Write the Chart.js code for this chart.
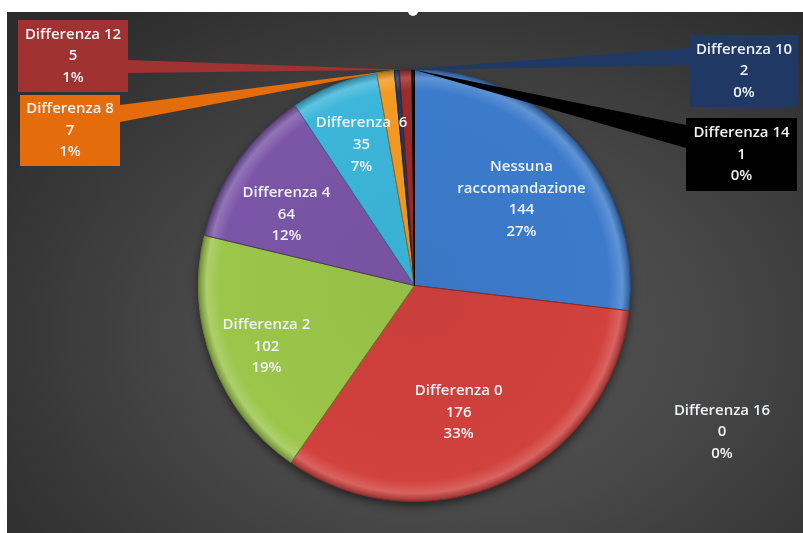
<!DOCTYPE html>
<html>
<head>
<meta charset="utf-8">
<script src="https://cdn.jsdelivr.net/npm/chart.js@4/dist/chart.umd.min.js"></script>
<style>
  body { margin: 0; background: #fff; }
  #wrap { position: relative; width: 803px; height: 533px; overflow: hidden; }
  #bg {
    position: absolute; left: 7px; top: 12px; width: 796px; height: 521px;
    background: radial-gradient(ellipse 70% 78% at 56% 62%, #575757 0%, #484848 45%, #2c2c2c 100%);
  }
  #dot { position: absolute; left: 408px; top: 6px; width: 10px; height: 10px; border-radius: 50%; background: #fff; }
  #grafico { position: absolute; left: 0; top: 0; }
</style>
</head>
<body>
<div id="wrap">
  <div id="bg"></div>
  <div id="dot"></div>
  <canvas id="grafico" width="803" height="533"></canvas>
</div>
<script>
const categorie = ['Nessuna raccomandazione', 'Differenza 0', 'Differenza 2', 'Differenza 4', 'Differenza  6',
  'Differenza 8', 'Differenza 10', 'Differenza 12', 'Differenza 14', 'Differenza 16'];
const valori = [144, 176, 102, 64, 35, 7, 2, 5, 1, 0];
const colori = ['#3c7bcc', '#d1413d', '#9bc64a', '#7b55a7', '#3cb6da', '#f39a22', '#1f3a60', '#9c2b2b', '#000000', '#777777'];

const totale = valori.reduce((a, b) => a + b, 0);
const percentuali = valori.map((v) => `${Math.round((v / totale) * 100)}%`);

// schiarisce/scurisce un colore hex
function shade(hex, f) {
  const n = parseInt(hex.slice(1), 16);
  let r = (n >> 16) & 255; let g = (n >> 8) & 255; let b = n & 255;
  if (f > 0) { r += (255 - r) * f; g += (255 - g) * f; b += (255 - b) * f; } else { r *= 1 + f; g *= 1 + f; b *= 1 + f; }
  return `rgb(${Math.round(r)},${Math.round(g)},${Math.round(b)})`;
}

// etichette dentro le fette: [raggio relativo, scarto angolo in gradi]
const dentro = { 0: [0.636, 2.8], 1: [0.622, 5], 2: [0.741, -1.5], 3: [0.678, -5.9], 4: [0.697, 1.2] };
// callout esterni
const callout = {
  5: { x: 20, y: 95, w: 100, h: 71, bg: '#e46c0a', ax: 120, ay1: 105, ay2: 122 },
  6: { x: 690, y: 35, w: 108, h: 72, bg: '#1f3864', ax: 690, ay1: 48, ay2: 65 },
  7: { x: 18, y: 20, w: 110, h: 72, bg: '#a03231', ax: 128, ay1: 60, ay2: 73 },
  8: { x: 686, y: 118, w: 111, h: 73, bg: '#000000', ax: 686, ay1: 125, ay2: 148 },
};
const testoLibero = { 9: { x: 722, y: 432 } };

function righe(i) {
  const nome = i === 0 ? ['Nessuna', 'raccomandazione'] : [categorie[i]];
  return [...nome, String(valori[i]), percentuali[i]];
}

function scriviRighe(ctx, lines, x, yc) {
  const lh = 21.7;
  const y0 = yc - ((lines.length - 1) * lh) / 2;
  lines.forEach((t, k) => ctx.fillText(t, x, y0 + k * lh));
}

const ombraPlugin = {
  id: 'ombra',
  beforeDatasetsDraw(chart) {
    const arc = chart.getDatasetMeta(0).data[0];
    if (!arc) return;
    const { ctx } = chart;
    ctx.save();
    ctx.shadowColor = 'rgba(0,0,0,0.55)';
    ctx.shadowBlur = 10;
    ctx.shadowOffsetY = 4;
    ctx.fillStyle = '#333';
    ctx.beginPath();
    ctx.arc(arc.x, arc.y, arc.outerRadius, 0, Math.PI * 2);
    ctx.fill();
    ctx.restore();
  },
};

const etichettePlugin = {
  id: 'etichette',
  afterDatasetsDraw(chart) {
    const { ctx } = chart;
    const meta = chart.getDatasetMeta(0);
    ctx.save();
    ctx.font = '600 15px "Open Sans"';
    ctx.textAlign = 'center';
    ctx.textBaseline = 'middle';

    // linee guida a cuneo
    Object.keys(callout).forEach((k) => {
      const i = Number(k);
      const c = callout[i];
      const arc = meta.data[i];
      const mid = (arc.startAngle + arc.endAngle) / 2;
      const px = arc.x + Math.cos(mid) * arc.outerRadius;
      const py = arc.y + Math.sin(mid) * arc.outerRadius;
      ctx.fillStyle = c.bg;
      ctx.beginPath();
      ctx.moveTo(px, py);
      ctx.lineTo(c.ax, c.ay1);
      ctx.lineTo(c.ax, c.ay2);
      ctx.closePath();
      ctx.fill();
    });

    meta.data.forEach((arc, i) => {
      ctx.fillStyle = '#eef2f6';
      if (dentro[i] !== undefined) {
        const mid = (arc.startAngle + arc.endAngle) / 2 + (dentro[i][1] * Math.PI) / 180;
        const r = arc.outerRadius * dentro[i][0];
        scriviRighe(ctx, righe(i), arc.x + Math.cos(mid) * r, arc.y + Math.sin(mid) * r);
      } else if (callout[i]) {
        const c = callout[i];
        ctx.fillStyle = c.bg;
        ctx.fillRect(c.x, c.y, c.w, c.h);
        ctx.fillStyle = '#eef2f6';
        scriviRighe(ctx, righe(i), c.x + c.w / 2, c.y + c.h / 2);
      } else if (testoLibero[i]) {
        scriviRighe(ctx, righe(i), testoLibero[i].x, testoLibero[i].y);
      }
    });
    ctx.restore();
  },
};

new Chart(document.getElementById('grafico'), {
  type: 'pie',
  data: {
    labels: categorie,
    datasets: [{
      data: valori,
      backgroundColor: (c) => {
        const base = colori[c.dataIndex];
        const a = c.chart.chartArea;
        if (!a) return base;
        const cx = (a.left + a.right) / 2;
        const cy = (a.top + a.bottom) / 2;
        const r = Math.min(a.width, a.height) / 2;
        const g = c.chart.ctx.createRadialGradient(cx, cy, 0, cx, cy, r);
        g.addColorStop(0, shade(base, -0.04));
        g.addColorStop(0.9, base);
        g.addColorStop(0.96, shade(base, 0.18));
        g.addColorStop(1, shade(base, -0.3));
        return g;
      },
      borderColor: colori.map((c) => shade(c, -0.35)),
      borderWidth: 1,
    }],
  },
  options: {
    responsive: false,
    animation: false,
    layout: { padding: { left: 198, right: 172, top: 69, bottom: 31 } },
    plugins: { legend: { display: false }, tooltip: { enabled: false } },
  },
  plugins: [ombraPlugin, etichettePlugin],
});
</script>
</body>
</html>
